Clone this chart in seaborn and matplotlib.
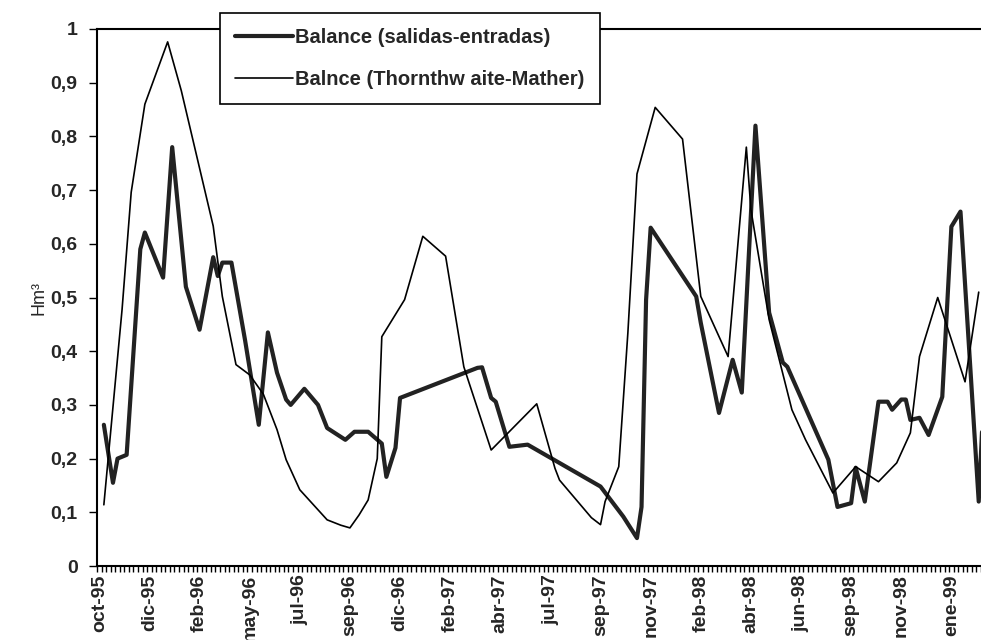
import numpy as np
import pandas as pd
import matplotlib
matplotlib.use('Agg')
import matplotlib.pyplot as plt
import seaborn as sns

# category labels shown on the x axis (one every 11 samples)
tick_labels = ['oct-95', 'dic-95', 'feb-96', 'may-96', 'jul-96', 'sep-96',
               'dic-96', 'feb-97', 'abr-97', 'jul-97', 'sep-97', 'nov-97',
               'feb-98', 'abr-98', 'jun-98', 'sep-98', 'nov-98', 'ene-99']
label_step = 11
n_samples = 194

# Balance (salidas-entradas): sample index / Hm3
idx_balance = [1, 3, 4, 6, 9, 10, 14, 16, 19, 22, 25, 26, 27, 29, 32, 35, 37, 39,
               41, 42, 45, 48, 50, 54, 56, 59, 62, 63, 65, 66, 83, 84, 86, 87, 90,
               94, 110, 115, 118, 119, 120, 121, 131, 132, 136, 139, 141, 144, 147,
               150, 151, 160, 162, 165, 166, 168, 171, 173, 174, 176, 177, 178, 180,
               182, 185, 187, 189, 193, 194]
val_balance = [0.263, 0.155, 0.20, 0.207, 0.59, 0.621, 0.537, 0.78, 0.52, 0.44,
               0.575, 0.54, 0.565, 0.565, 0.42, 0.263, 0.435, 0.36, 0.31, 0.30,
               0.33, 0.30, 0.257, 0.235, 0.25, 0.25, 0.228, 0.166, 0.22, 0.313,
               0.369, 0.37, 0.313, 0.306, 0.222, 0.226, 0.148, 0.092, 0.052, 0.11,
               0.496, 0.63, 0.502, 0.453, 0.285, 0.384, 0.323, 0.82, 0.472, 0.379,
               0.371, 0.198, 0.11, 0.117, 0.183, 0.12, 0.306, 0.306, 0.291, 0.31,
               0.31, 0.272, 0.276, 0.244, 0.315, 0.632, 0.66, 0.12, 0.30]

# Balance (Thornthwaite-Mather)
idx_tm = [1, 5, 7, 10, 15, 18, 25, 27, 30, 33, 36, 39, 41, 44, 47, 50, 53, 55, 57,
          59, 61, 62, 67, 71, 76, 80, 81, 86, 96, 100, 101, 108, 110, 111, 114, 116,
          118, 122, 128, 132, 138, 142, 143, 147, 152, 155, 161, 166, 171, 175, 178,
          180, 184, 190, 193]
val_tm = [0.114, 0.478, 0.696, 0.86, 0.976, 0.885, 0.633, 0.502, 0.375, 0.356,
          0.32, 0.254, 0.198, 0.142, 0.114, 0.086, 0.076, 0.071, 0.095, 0.123, 0.2,
          0.427, 0.496, 0.614, 0.577, 0.371, 0.345, 0.216, 0.302, 0.182, 0.16, 0.09,
          0.077, 0.12, 0.185, 0.434, 0.73, 0.854, 0.795, 0.502, 0.39, 0.78, 0.664,
          0.459, 0.291, 0.235, 0.136, 0.185, 0.157, 0.192, 0.248, 0.39, 0.5, 0.343,
          0.51]

sns.set_style('white')
plt.rcParams['font.family'] = ['Liberation Sans', 'DejaVu Sans']

fig = plt.figure(figsize=(9.81, 6.4), dpi=100)
ax = fig.add_axes([0.0989, 0.1156, 0.9011, 0.8391])

df_b = pd.DataFrame({'idx': idx_balance, 'hm3': val_balance})
df_t = pd.DataFrame({'idx': idx_tm, 'hm3': val_tm})
sns.lineplot(data=df_b, x='idx', y='hm3', ax=ax, color='#222222', linewidth=3.0,
             label='Balance (salidas-entradas)', sort=False)
sns.lineplot(data=df_t, x='idx', y='hm3', ax=ax, color='black', linewidth=1.2,
             label='Balnce (Thornthw aite-Mather)', sort=False)

ax.set_xlim(-0.5, n_samples - 0.5)
ax.set_ylim(0, 1)

# x: labels at category centres, tick marks between categories
ax.set_xticks(np.arange(len(tick_labels)) * label_step)
ax.set_xticklabels(tick_labels, rotation=90, fontsize=14, fontweight='bold')
ax.set_xticks(np.arange(n_samples + 1) - 0.5, minor=True)
ax.tick_params(axis='x', which='major', length=0, pad=6)
ax.tick_params(axis='x', which='minor', length=4, width=1, color='black', direction='out',
               bottom=True)

yt = np.round(np.arange(0, 1.01, 0.1), 1)
ax.set_yticks(yt)
ax.set_yticklabels([('%g' % v).replace('.', ',') for v in yt], fontsize=14, fontweight='bold')
ax.tick_params(axis='y', which='major', length=6, width=1, color='black', direction='out',
               left=True, pad=8)

ax.set_xlabel('')
ax.set_ylabel('Hm³', fontsize=13)
ax.yaxis.set_label_coords(-0.056, 0.5)

for side in ['left', 'bottom', 'top']:
    ax.spines[side].set_color('black')
    ax.spines[side].set_linewidth(1.5)
ax.spines['right'].set_visible(False)

leg = ax.legend(loc='upper left', bbox_to_anchor=(0.139, 1.03), borderaxespad=0,
                fancybox=False, framealpha=1, edgecolor='black', handlelength=2.9,
                handletextpad=0.1, borderpad=0.75, labelspacing=1.15,
                prop={'size': 14.5, 'weight': 'bold'})
leg.get_frame().set_linewidth(1.2)
leg.set_zorder(10)

fig.savefig('out.png', dpi=100)
